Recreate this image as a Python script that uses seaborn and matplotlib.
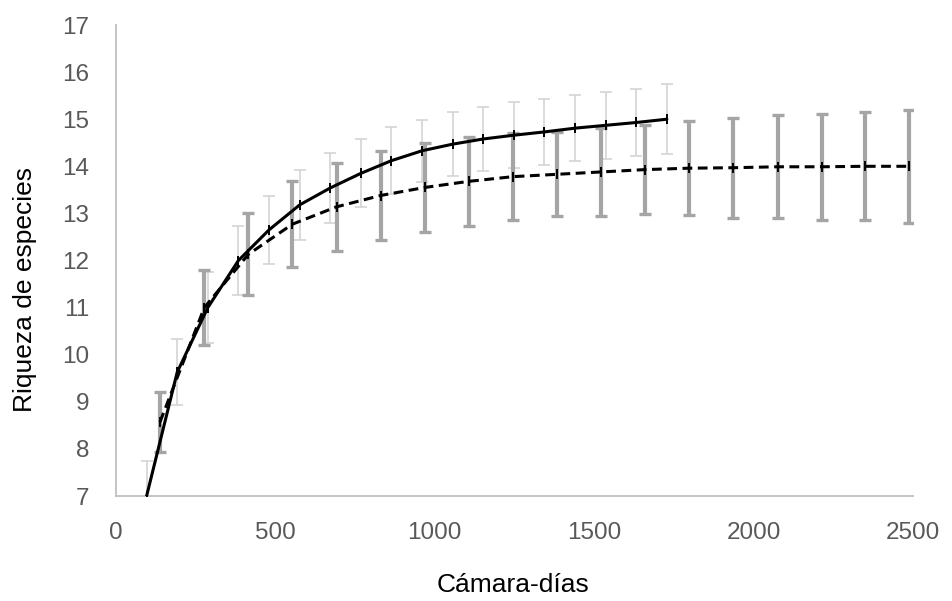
import matplotlib
matplotlib.use("Agg")
import matplotlib.pyplot as plt
import seaborn as sns
import pandas as pd

# ---- data ----
solid_x = [96, 192, 288, 384, 480, 576, 672, 768, 864, 960, 1056, 1152, 1248, 1344, 1440, 1536, 1632, 1728]
solid_y = [7.0, 9.63, 11.0, 12.0, 12.65, 13.18, 13.54, 13.85, 14.12, 14.33, 14.47, 14.58, 14.66, 14.73, 14.81, 14.87, 14.93, 15.0]
solid_err = [0.74, 0.70, 0.75, 0.73, 0.73, 0.74, 0.74, 0.72, 0.71, 0.66, 0.68, 0.67, 0.70, 0.70, 0.70, 0.71, 0.72, 0.74]

dashed_x = [138, 277, 415, 553, 692, 830, 968, 1106, 1245, 1383, 1521, 1660, 1798, 1936, 2075, 2213, 2351, 2489]
dashed_y = [8.57, 11.0, 12.13, 12.77, 13.14, 13.38, 13.55, 13.68, 13.78, 13.83, 13.88, 13.93, 13.96, 13.97, 13.99, 13.99, 14.0, 14.0]
dashed_err = [0.64, 0.79, 0.87, 0.91, 0.93, 0.95, 0.94, 0.95, 0.93, 0.89, 0.93, 0.94, 1.0, 1.06, 1.09, 1.12, 1.15, 1.2]

x_ticks = [0, 500, 1000, 1500, 2000, 2500]
y_ticks = [7, 8, 9, 10, 11, 12, 13, 14, 15, 16, 17]
x_label = "Cámara-días"
y_label = "Riqueza de especies"

sns.set_theme(style="white")
plt.rcParams["font.family"] = ["Liberation Sans", "DejaVu Sans"]

fig = plt.figure(figsize=(9.52, 6.01), dpi=100)
ax = fig.add_axes([116 / 952, 1 - 496 / 601, (913 - 116) / 952, (496 - 25) / 601])

df_s = pd.DataFrame({"x": solid_x, "y": solid_y})
df_d = pd.DataFrame({"x": dashed_x, "y": dashed_y})

# error bars: thin light (solid series), thick gray (dashed series)
ax.errorbar(solid_x, solid_y, yerr=solid_err, fmt="none", ecolor="#d4d4d4",
            elinewidth=1.2, capsize=4.3, capthick=1.2, zorder=2)
ax.errorbar(dashed_x, dashed_y, yerr=dashed_err, fmt="none", ecolor="#a5a5a5",
            elinewidth=3.0, capsize=4.5, capthick=2.4, zorder=3)

sns.lineplot(data=df_s, x="x", y="y", ax=ax, color="black", linewidth=2.2,
             marker="|", markersize=7, markeredgewidth=1.4,
             markeredgecolor="black", zorder=5, sort=False)
sns.lineplot(data=df_d, x="x", y="y", ax=ax, color="black", linewidth=2.2,
             dashes=(3.2, 1.8), marker="|", markersize=7, markeredgewidth=1.4,
             markeredgecolor="black", zorder=5, sort=False)

ax.set_xlim(0, 2500)
ax.set_ylim(7, 17)
ax.set_xticks(x_ticks)
ax.set_yticks(y_ticks)
ax.set_xticklabels([str(v) for v in x_ticks])
ax.set_yticklabels([str(v) for v in y_ticks])

for s in ["top", "right"]:
    ax.spines[s].set_visible(False)
for s in ["left", "bottom"]:
    ax.spines[s].set_color("#bfbfbf")
    ax.spines[s].set_linewidth(1.3)

ax.tick_params(axis="both", which="major", direction="out", width=1.0,
               color="#bfbfbf", labelcolor="#595959", labelsize=17.5)
ax.tick_params(axis="x", length=7, pad=12)
ax.tick_params(axis="y", length=6, pad=13)

ax.set_xlabel("")
ax.set_ylabel("")
fig.text(513 / 952, 1 - 585 / 601, x_label, ha="center", va="center",
         fontsize=19, color="black")
fig.text(25 / 952, 1 - 290 / 601, y_label, ha="center", va="center",
         rotation=90, fontsize=19, color="black")

ax.grid(False)
fig.savefig("out.png", dpi=100)
